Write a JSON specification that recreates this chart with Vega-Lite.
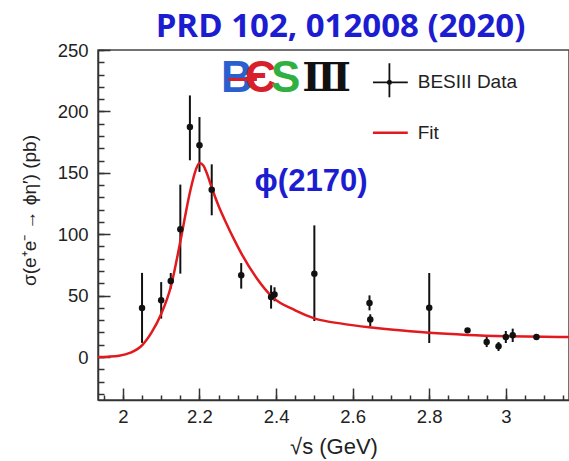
{
  "$schema": "https://vega.github.io/schema/vega-lite/v6.json",
  "width": 471,
  "height": 350,
  "autosize": {"type": "none"},
  "padding": {"left": 98, "top": 50, "right": 0, "bottom": 61},
  "background": "white",
  "title": {"text": "PRD 102, 012008 (2020)", "font": "Open Sans", "fontSize": 33, "fontWeight": "bold", "color": "#1c1cd0", "anchor": "middle", "offset": -3, "dx": 7},
  "config": {"view": {"stroke": "#444", "strokeWidth": 1.5}},
  "datasets": {
    "pts": [
      {"E": 2.05, "sigma": 40, "lo": 11.5, "hi": 68.5},
      {"E": 2.1, "sigma": 46.2, "lo": 31.3, "hi": 61},
      {"E": 2.125, "sigma": 61.9, "lo": 55.7, "hi": 68.4},
      {"E": 2.15, "sigma": 104, "lo": 67.9, "hi": 140.4},
      {"E": 2.175, "sigma": 187.3, "lo": 160.2, "hi": 213},
      {"E": 2.2, "sigma": 172.4, "lo": 150.7, "hi": 195.4},
      {"E": 2.232, "sigma": 136.3, "lo": 115.4, "hi": 156.9},
      {"E": 2.309, "sigma": 66.5, "lo": 55.7, "hi": 76.5},
      {"E": 2.387, "sigma": 48.9, "lo": 39.4, "hi": 58.4},
      {"E": 2.396, "sigma": 51, "lo": 45.4, "hi": 56.8},
      {"E": 2.5, "sigma": 67.9, "lo": 29.3, "hi": 107.2},
      {"E": 2.644, "sigma": 44, "lo": 38, "hi": 50.2},
      {"E": 2.646, "sigma": 30.5, "lo": 25, "hi": 34.8},
      {"E": 2.8, "sigma": 40.2, "lo": 11.4, "hi": 68.4},
      {"E": 2.9, "sigma": 21.7, "lo": 20.2, "hi": 23.2},
      {"E": 2.95, "sigma": 12.2, "lo": 8.1, "hi": 16.9},
      {"E": 2.981, "sigma": 8.7, "lo": 4.9, "hi": 12.2},
      {"E": 3.0, "sigma": 16.3, "lo": 11.4, "hi": 21.2},
      {"E": 3.018, "sigma": 17.7, "lo": 12.2, "hi": 23.1},
      {"E": 3.08, "sigma": 16.3, "lo": 15.3, "hi": 17.3}
    ],
    "fit": [
      {"E": 1.935, "sigma": 0},
      {"E": 1.96, "sigma": 0.3},
      {"E": 1.99, "sigma": 1},
      {"E": 2.02, "sigma": 3.5},
      {"E": 2.05, "sigma": 9.5},
      {"E": 2.075, "sigma": 20},
      {"E": 2.1, "sigma": 35},
      {"E": 2.125, "sigma": 57},
      {"E": 2.15, "sigma": 94},
      {"E": 2.175, "sigma": 134},
      {"E": 2.19, "sigma": 152},
      {"E": 2.2, "sigma": 158},
      {"E": 2.21, "sigma": 156},
      {"E": 2.22, "sigma": 149},
      {"E": 2.233, "sigma": 137},
      {"E": 2.25, "sigma": 123},
      {"E": 2.27, "sigma": 109},
      {"E": 2.29, "sigma": 96},
      {"E": 2.31, "sigma": 84},
      {"E": 2.35, "sigma": 64},
      {"E": 2.39, "sigma": 49},
      {"E": 2.45, "sigma": 38},
      {"E": 2.5, "sigma": 31.5},
      {"E": 2.575, "sigma": 27},
      {"E": 2.65, "sigma": 24},
      {"E": 2.73, "sigma": 21.5},
      {"E": 2.8, "sigma": 19.7},
      {"E": 2.9, "sigma": 18},
      {"E": 3.0, "sigma": 17},
      {"E": 3.1, "sigma": 16.5},
      {"E": 3.165, "sigma": 16.3}
    ]
  },
  "layer": [
    {
      "data": {"name": "pts"},
      "mark": {"type": "rule", "color": "#111", "strokeWidth": 2},
      "encoding": {
        "x": {"field": "E", "type": "quantitative", "scale": {"domain": [1.935, 3.165], "nice": false, "zero": false},
          "axis": {"orient": "bottom", "values": [1.95, 2.0, 2.05, 2.1, 2.15, 2.2, 2.25, 2.3, 2.35, 2.4, 2.45, 2.5, 2.55, 2.6, 2.65, 2.7, 2.75, 2.8, 2.85, 2.9, 2.95, 3.0, 3.05, 3.1, 3.15], "tickSize": -5, "tickWidth": 1.5, "tickColor": "#333", "labels": false, "domain": false, "grid": false, "title": null}},
        "y": {"field": "lo", "type": "quantitative", "scale": {"domain": [-35, 250], "nice": false, "zero": false},
          "axis": {"orient": "left", "values": [-30, -20, -10, 0, 10, 20, 30, 40, 50, 60, 70, 80, 90, 100, 110, 120, 130, 140, 150, 160, 170, 180, 190, 200, 210, 220, 230, 240, 250], "tickSize": -6, "tickWidth": 1.5, "tickColor": "#333", "labels": false, "domain": false, "grid": false, "title": null}},
        "y2": {"field": "hi"}
      }
    },
    {
      "data": {"name": "fit"},
      "mark": {"type": "line", "color": "#e2191e", "strokeWidth": 2.5, "interpolate": "monotone"},
      "encoding": {
        "x": {"field": "E", "type": "quantitative",
          "axis": {"orient": "bottom", "values": [2, 2.2, 2.4, 2.6, 2.8, 3], "format": "~g", "tickSize": -12, "tickWidth": 1.5, "tickColor": "#333", "domainColor": "#333", "domainWidth": 1.5, "labelFont": "Liberation Sans", "labelFontSize": 18.5, "labelColor": "#222", "labelPadding": 19, "grid": false, "title": "√s (GeV)", "titleFont": "Liberation Sans", "titleFontSize": 22, "titleFontWeight": "normal", "titleColor": "#222", "titlePadding": 11}},
        "y": {"field": "sigma", "type": "quantitative",
          "axis": {"orient": "left", "values": [0, 50, 100, 150, 200, 250], "format": "d", "tickSize": -12, "tickWidth": 1.5, "tickColor": "#333", "domainColor": "#333", "domainWidth": 1.5, "labelFont": "Liberation Sans", "labelFontSize": 18.5, "labelColor": "#222", "labelPadding": 22, "grid": false, "title": "σ(e⁺e⁻ → ϕη′) (pb)", "titleFont": "Liberation Sans", "titleFontSize": 19, "titleFontWeight": "normal", "titleColor": "#222", "titlePadding": 18, "titleY": 160}}
      }
    },
    {
      "data": {"name": "pts"},
      "mark": {"type": "point", "filled": true, "color": "#111", "size": 42, "opacity": 1},
      "encoding": {
        "x": {"field": "E", "type": "quantitative", "axis": null},
        "y": {"field": "sigma", "type": "quantitative", "axis": null}
      }
    },
    {
      "data": {"values": [{}]},
      "mark": {"type": "rule", "color": "#111", "strokeWidth": 1.8},
      "encoding": {
        "x": {"datum": 2.653, "type": "quantitative", "axis": null},
        "x2": {"datum": 2.744},
        "y": {"datum": 223.7, "type": "quantitative", "axis": null}
      }
    },
    {
      "data": {"values": [{}]},
      "mark": {"type": "rule", "color": "#111", "strokeWidth": 1.8},
      "encoding": {
        "x": {"datum": 2.696, "type": "quantitative", "axis": null},
        "y": {"datum": 211.5, "type": "quantitative", "axis": null},
        "y2": {"datum": 239.2}
      }
    },
    {
      "data": {"values": [{}]},
      "mark": {"type": "point", "filled": true, "color": "#111", "size": 25, "opacity": 1},
      "encoding": {
        "x": {"datum": 2.696, "type": "quantitative", "axis": null},
        "y": {"datum": 223.7, "type": "quantitative", "axis": null}
      }
    },
    {
      "data": {"values": [{}]},
      "mark": {"type": "text", "text": "BESIII Data", "align": "left", "baseline": "middle", "font": "Liberation Sans", "fontSize": 19, "color": "#222"},
      "encoding": {
        "x": {"datum": 2.77, "type": "quantitative", "axis": null},
        "y": {"datum": 223.7, "type": "quantitative", "axis": null}
      }
    },
    {
      "data": {"values": [{}]},
      "mark": {"type": "rule", "color": "#e2191e", "strokeWidth": 2.5},
      "encoding": {
        "x": {"datum": 2.653, "type": "quantitative", "axis": null},
        "x2": {"datum": 2.744},
        "y": {"datum": 182.7, "type": "quantitative", "axis": null}
      }
    },
    {
      "data": {"values": [{}]},
      "mark": {"type": "text", "text": "Fit", "align": "left", "baseline": "middle", "font": "Liberation Sans", "fontSize": 19, "color": "#222"},
      "encoding": {
        "x": {"datum": 2.77, "type": "quantitative", "axis": null},
        "y": {"datum": 182.7, "type": "quantitative", "axis": null}
      }
    },
    {
      "data": {"values": [{}]},
      "mark": {"type": "text", "text": "B", "align": "center", "baseline": "middle", "font": "Liberation Sans", "fontWeight": "bold", "fontSize": 44, "color": "#2a5fd0"},
      "encoding": {
        "x": {"datum": 2.298, "type": "quantitative", "axis": null},
        "y": {"datum": 226, "type": "quantitative", "axis": null}
      }
    },
    {
      "data": {"values": [{}]},
      "mark": {"type": "text", "text": "Є", "align": "center", "baseline": "middle", "font": "Liberation Sans", "fontWeight": "bold", "fontSize": 44, "color": "#d8202c"},
      "encoding": {
        "x": {"datum": 2.36, "type": "quantitative", "axis": null},
        "y": {"datum": 226, "type": "quantitative", "axis": null}
      }
    },
    {
      "data": {"values": [{}]},
      "mark": {"type": "rule", "color": "#d8202c", "strokeWidth": 3},
      "encoding": {
        "x": {"datum": 2.275, "type": "quantitative", "axis": null},
        "x2": {"datum": 2.35},
        "y": {"datum": 226, "type": "quantitative", "axis": null}
      }
    },
    {
      "data": {"values": [{}]},
      "mark": {"type": "text", "text": "S", "align": "center", "baseline": "middle", "font": "Liberation Sans", "fontWeight": "bold", "fontSize": 44, "color": "#2fb040"},
      "encoding": {
        "x": {"datum": 2.425, "type": "quantitative", "axis": null},
        "y": {"datum": 226, "type": "quantitative", "axis": null}
      }
    },
    {
      "data": {"values": [{}]},
      "mark": {"type": "text", "text": "Ⅲ", "align": "center", "baseline": "middle", "font": "DejaVu Serif", "fontWeight": "bold", "fontSize": 40, "color": "#111"},
      "encoding": {
        "x": {"datum": 2.5318, "type": "quantitative", "axis": null},
        "y": {"datum": 226, "type": "quantitative", "axis": null}
      }
    },
    {
      "data": {"values": [{}]},
      "mark": {"type": "text", "text": "ϕ(2170)", "align": "left", "baseline": "middle", "font": "Liberation Sans", "fontWeight": "bold", "fontSize": 31, "color": "#1c1cd0"},
      "encoding": {
        "x": {"datum": 2.344, "type": "quantitative", "axis": null},
        "y": {"datum": 142.5, "type": "quantitative", "axis": null}
      }
    }
  ],
  "resolve": {"axis": {"x": "independent", "y": "independent"}}
}
